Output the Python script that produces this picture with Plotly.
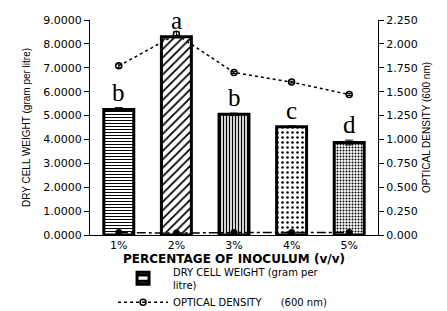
import plotly.graph_objects as go

categories = ["1%", "2%", "3%", "4%", "5%"]
dcw = [5.25, 8.30, 5.05, 4.53, 3.87]
dcw_err = [0.08, 0.05, 0.05, 0.03, 0.10]
od = [1.77, 2.10, 1.70, 1.60, 1.47]
od_err = [0.02, 0.03, 0.01, 0.01, 0.01]
control = [0.025, 0.02, 0.025, 0.025, 0.025]
letters = ["b", "a", "b", "c", "d"]
patterns = ["-", "/", "|", ".", "."]
pattern_sizes = [3, 6, 3, 5, 3]
pattern_solid = [0.35, 0.3, 0.45, 0.2, 0.35]

left_ticks = [0, 1, 2, 3, 4, 5, 6, 7, 8, 9]
right_ticks = [0, 0.25, 0.5, 0.75, 1.0, 1.25, 1.5, 1.75, 2.0, 2.25]

fig = go.Figure()

fig.add_trace(go.Bar(
    x=categories, y=dcw, width=0.52,
    name="DRY CELL WEIGHT (gram per<br>litre)",
    marker=dict(
        color="white",
        line=dict(color="black", width=3),
        pattern=dict(shape=patterns, size=pattern_sizes, solidity=pattern_solid,
                     fgcolor="black", bgcolor="white", fillmode="replace"),
    ),
    error_y=dict(type="data", array=dcw_err, color="black", thickness=1, width=4),
    yaxis="y",
))

fig.add_trace(go.Scatter(
    x=categories, y=od, mode="lines+markers",
    name="OPTICAL DENSITY\u00a0\u00a0\u00a0\u00a0\u00a0\u00a0(600 nm)",
    line=dict(color="black", width=1.5, dash="dot"),
    marker=dict(symbol="circle-open", size=6, color="black", line=dict(width=1.5)),
    error_y=dict(type="data", array=od_err, color="black", thickness=1, width=3),
    yaxis="y2",
))

fig.add_trace(go.Scatter(
    x=categories, y=control, mode="lines+markers",
    name="CONTROL",
    line=dict(color="black", width=1.5, dash="dashdot"),
    marker=dict(symbol="circle", size=7, color="black"),
    yaxis="y2",
))

for c, v, e, t in zip(categories, dcw, dcw_err, letters):
    fig.add_annotation(x=c, y=v + e, yref="y", text=t, showarrow=False,
                       yanchor="bottom", yshift=0,
                       font=dict(family="Liberation Serif, Times New Roman, serif", size=25, color="black"))

fig.update_layout(
    width=439, height=303,
    margin=dict(l=82, r=69, t=12, b=76, autoexpand=False),
    paper_bgcolor="white", plot_bgcolor="white",
    font=dict(family="DejaVu Sans, Arial, sans-serif", size=11, color="black"),
    showlegend=True,
    xaxis=dict(
        categoryorder="array", categoryarray=categories,
        showline=True, linecolor="black", linewidth=1,
        ticks="", ticklen=0, showgrid=False, zeroline=False,
        title=dict(text="<b>PERCENTAGE OF INOCULUM (v/v)</b>", standoff=1,
                   font=dict(family="DejaVu Sans, Arial, sans-serif", size=12)),
        tickfont=dict(size=11),
    ),
    yaxis=dict(
        range=[0, 9], tickvals=left_ticks, tickformat=".4f",
        showline=True, linecolor="black", linewidth=1,
        ticks="outside", ticklen=5, tickcolor="black",
        showgrid=False, zeroline=False, tickfont=dict(size=11),
        title=dict(text="DRY CELL WEIGHT (gram per litre)", standoff=10,
                   font=dict(family="Liberation Sans Narrow, Arial Narrow, Liberation Sans, sans-serif", size=10)),
    ),
    yaxis2=dict(
        range=[0, 2.25], tickvals=right_ticks, tickformat=".3f",
        overlaying="y", side="right",
        showline=True, linecolor="black", linewidth=1,
        ticks="outside", ticklen=5, tickcolor="black",
        showgrid=False, zeroline=False, tickfont=dict(size=11),
        title=dict(text="OPTICAL DENSITY (600 nm)", standoff=6,
                   font=dict(family="Liberation Sans Narrow, Arial Narrow, Liberation Sans, sans-serif", size=10)),
    ),
    legend=dict(
        orientation="v", x=0.08, y=-0.11, xanchor="left", yanchor="top",
        font=dict(family="DejaVu Sans, Arial, sans-serif", size=10),
        itemwidth=50, tracegroupgap=0, bgcolor="rgba(0,0,0,0)",
    ),
)

fig.write_html("out.html")
